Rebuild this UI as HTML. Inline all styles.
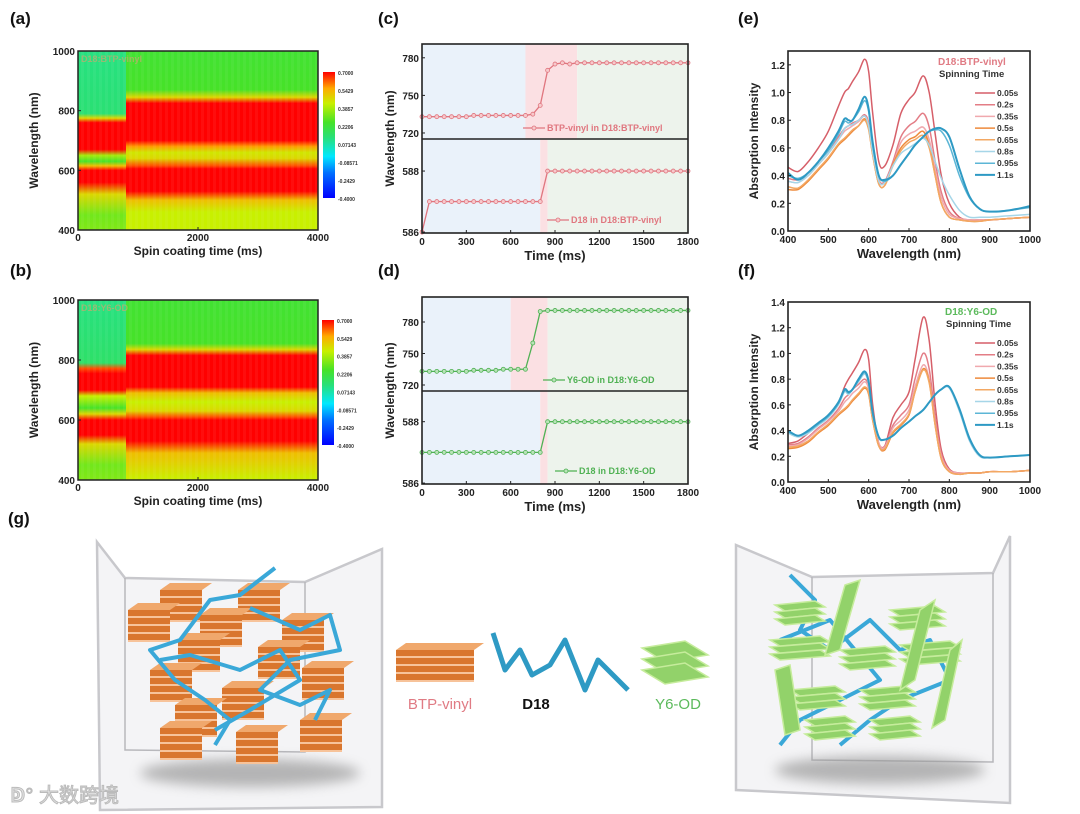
<!DOCTYPE html>
<html><head><meta charset="utf-8"><style>
html,body{margin:0;padding:0;background:#fff;}
svg{display:block;font-family:"Liberation Sans","Noto Sans CJK SC",sans-serif;}
</style></head><body>
<svg id="fig" width="1080" height="814" viewBox="0 0 1080 814" xmlns="http://www.w3.org/2000/svg">
<defs>
<filter id="blur" x="-20%" y="-50%" width="140%" height="200%"><feGaussianBlur stdDeviation="6"/></filter>
<linearGradient id="cbar" x1="0" y1="1" x2="0" y2="0">
<stop offset="0" stop-color="#0000ff"/><stop offset="0.2" stop-color="#0070ff"/><stop offset="0.33" stop-color="#00e8ff"/><stop offset="0.48" stop-color="#28e078"/><stop offset="0.6" stop-color="#46e228"/><stop offset="0.75" stop-color="#c8f000"/><stop offset="0.87" stop-color="#ffaa00"/><stop offset="1" stop-color="#ff0000"/>
</linearGradient>
</defs>
</svg>
<script>
// ---------- DATA ----------
const hmAWlRight=[1000,870,845,825,700,680,660,640,615,605,530,500,460,400];
const hmAValRight=[0.2,0.22,0.45,0.7,0.7,0.55,0.42,0.45,0.6,0.7,0.7,0.5,0.4,0.4];
const hmAWlLeft=[1000,790,775,760,670,650,630,615,600,560,520,450,400];
const hmAValLeft=[0.06,0.08,0.45,0.7,0.7,0.35,0.22,0.5,0.7,0.7,0.45,0.28,0.3];
const hmBWlRight=[1000,855,835,815,710,690,660,630,610,600,530,490,400];
const hmBValRight=[0.2,0.22,0.45,0.7,0.7,0.5,0.4,0.45,0.6,0.7,0.7,0.5,0.4];
const hmBWlLeft=[1000,790,772,755,700,680,640,620,600,550,520,450,400];
const hmBValLeft=[0.06,0.1,0.6,0.7,0.7,0.4,0.22,0.45,0.7,0.7,0.45,0.28,0.3];
const hmSwitchTime=800;
const cbLabels=["0.7000","0.5429","0.3857","0.2206","0.07143","-0.08571","-0.2429","-0.4000"];

const stepTime=[0,50,100,150,200,250,300,350,400,450,500,550,600,650,700,750,800,850,900,950,1000,1050,1100,1150,1200,1250,1300,1350,1400,1450,1500,1550,1600,1650,1700,1750,1800];
const cUpper=[733,733,733,733,733,733,733,734,734,734,734,734,734,734,734,735,742,770,775,776,775,776,776,776,776,776,776,776,776,776,776,776,776,776,776,776,776];
const cLower=[586,587,587,587,587,587,587,587,587,587,587,587,587,587,587,587,587,588,588,588,588,588,588,588,588,588,588,588,588,588,588,588,588,588,588,588,588];
const dUpper=[733,733,733,733,733,733,733,734,734,734,734,735,735,735,735,760,790,791,791,791,791,791,791,791,791,791,791,791,791,791,791,791,791,791,791,791,791];
const dLower=[587,587,587,587,587,587,587,587,587,587,587,587,587,587,587,587,587,588,588,588,588,588,588,588,588,588,588,588,588,588,588,588,588,588,588,588,588];
const cTicksX=[0,300,600,900,1200,1500,1800];

const wl=[400,425,450,475,500,525,540,550,560,575,590,600,610,625,640,660,680,700,715,735,750,765,780,800,825,850,875,900,950,1000];
const seriesNames=["0.05s","0.2s","0.35s","0.5s","0.65s","0.8s","0.95s","1.1s"];
const e005=[0.46,0.43,0.5,0.6,0.72,0.9,1.0,1.03,1.08,1.15,1.24,1.15,0.85,0.5,0.47,0.62,0.85,0.95,1.0,1.12,1.0,0.7,0.4,0.2,0.1,0.08,0.08,0.08,0.09,0.1];
const e02=[0.38,0.37,0.42,0.5,0.58,0.68,0.74,0.76,0.78,0.8,0.84,0.78,0.58,0.37,0.36,0.5,0.68,0.76,0.79,0.85,0.75,0.5,0.28,0.14,0.09,0.08,0.08,0.08,0.09,0.1];
const e035=[0.36,0.35,0.4,0.48,0.56,0.66,0.72,0.74,0.76,0.79,0.83,0.76,0.56,0.36,0.35,0.48,0.64,0.7,0.72,0.75,0.66,0.44,0.24,0.12,0.09,0.08,0.08,0.08,0.09,0.1];
const e05=[0.3,0.3,0.36,0.44,0.52,0.62,0.66,0.69,0.72,0.76,0.81,0.74,0.55,0.34,0.33,0.48,0.6,0.66,0.68,0.72,0.62,0.4,0.2,0.1,0.08,0.07,0.07,0.08,0.09,0.1];
const e065=[0.32,0.31,0.37,0.45,0.53,0.63,0.67,0.7,0.73,0.76,0.8,0.73,0.55,0.34,0.33,0.47,0.58,0.64,0.66,0.69,0.6,0.4,0.2,0.1,0.08,0.07,0.07,0.08,0.09,0.1];
const e08=[0.36,0.35,0.4,0.48,0.56,0.66,0.74,0.76,0.77,0.8,0.83,0.76,0.57,0.36,0.35,0.47,0.56,0.6,0.63,0.67,0.62,0.5,0.38,0.26,0.15,0.1,0.1,0.1,0.11,0.12];
const e095=[0.4,0.38,0.42,0.5,0.58,0.7,0.79,0.78,0.8,0.86,0.94,0.86,0.62,0.4,0.36,0.4,0.48,0.56,0.62,0.68,0.72,0.73,0.72,0.62,0.4,0.24,0.16,0.14,0.15,0.17];
const e11=[0.42,0.37,0.42,0.5,0.6,0.72,0.81,0.8,0.8,0.88,0.97,0.88,0.64,0.4,0.37,0.4,0.48,0.56,0.62,0.68,0.72,0.74,0.74,0.68,0.45,0.25,0.16,0.14,0.15,0.18];
const f005=[0.3,0.32,0.38,0.45,0.52,0.62,0.74,0.8,0.85,0.93,1.03,0.95,0.6,0.3,0.28,0.5,0.6,0.7,0.95,1.28,1.1,0.6,0.25,0.1,0.07,0.07,0.07,0.08,0.08,0.09];
const f02=[0.29,0.3,0.35,0.42,0.48,0.57,0.65,0.68,0.72,0.76,0.8,0.74,0.5,0.3,0.28,0.44,0.52,0.6,0.8,1.0,0.88,0.5,0.22,0.09,0.07,0.07,0.07,0.08,0.08,0.09];
const f035=[0.28,0.29,0.34,0.41,0.47,0.55,0.62,0.65,0.69,0.73,0.78,0.72,0.5,0.3,0.27,0.42,0.48,0.56,0.74,0.91,0.8,0.46,0.2,0.09,0.07,0.07,0.07,0.08,0.08,0.09];
const f05=[0.26,0.27,0.31,0.38,0.44,0.52,0.56,0.59,0.63,0.68,0.73,0.68,0.48,0.28,0.25,0.38,0.44,0.52,0.7,0.88,0.78,0.44,0.18,0.08,0.06,0.07,0.07,0.08,0.08,0.09];
const f065=[0.27,0.28,0.32,0.39,0.45,0.53,0.57,0.6,0.64,0.69,0.74,0.69,0.48,0.28,0.26,0.39,0.45,0.53,0.7,0.87,0.77,0.44,0.18,0.08,0.06,0.07,0.07,0.08,0.08,0.09];
const f08=[0.38,0.35,0.38,0.44,0.5,0.6,0.7,0.68,0.72,0.78,0.84,0.76,0.52,0.34,0.33,0.36,0.42,0.47,0.51,0.56,0.62,0.68,0.72,0.73,0.55,0.32,0.2,0.19,0.2,0.21];
const f095=[0.39,0.36,0.39,0.45,0.51,0.61,0.71,0.69,0.72,0.79,0.85,0.77,0.53,0.35,0.33,0.36,0.42,0.47,0.51,0.56,0.62,0.68,0.72,0.74,0.56,0.33,0.21,0.19,0.2,0.21];
const f11=[0.4,0.36,0.4,0.46,0.52,0.62,0.72,0.7,0.72,0.8,0.86,0.78,0.54,0.35,0.33,0.36,0.42,0.47,0.51,0.56,0.62,0.68,0.72,0.74,0.57,0.34,0.21,0.19,0.2,0.21];
const seriesColors=["#d65f69","#e37d86","#f0a9ae","#ee8a3b","#f3a863","#a6d6e8","#5cb6d6","#2e9ac4"];

// ---------- HELPERS ----------
const svg=document.getElementById('fig');
const NS='http://www.w3.org/2000/svg';
function mk(tag,attrs,name,parent){
  const el=document.createElementNS(NS,tag);
  for(const k in attrs) el.setAttribute(k,attrs[k]);
  
  
  (parent||svg).appendChild(el);
  return el;
}
function txt(x,y,s,name,opt){
  opt=opt||{};
  const t=mk('text',{x:x,y:y,'font-size':opt.size||10,'font-weight':opt.weight||'bold',fill:opt.fill||'#222','text-anchor':opt.anchor||'start'},name,opt.parent);
  if(opt.rot) t.setAttribute('transform','rotate(-90 '+x+' '+y+')');
  t.textContent=s;
  return t;
}
function lin(d0,d1,r0,r1){return v=>r0+(v-d0)*(r1-r0)/(d1-d0);}
const cmV=[-0.4,-0.24,-0.09,0.07,0.22,0.40,0.54,0.65];
const cmC=[[0,0,255],[0,112,255],[0,232,255],[40,224,120],[70,226,40],[200,240,0],[255,170,0],[255,0,0]];
function cmap(v){
  if(v<=cmV[0]) return 'rgb('+cmC[0]+')';
  for(let i=1;i<cmV.length;i++){
    if(v<=cmV[i]){const t=(v-cmV[i-1])/(cmV[i]-cmV[i-1]);const a=cmC[i-1],b=cmC[i];
      return 'rgb('+a.map((c,j)=>Math.round(c+(b[j]-c)*t)).join(',')+')';}
  }
  return 'rgb(255,0,0)';
}
function smoothPath(pts){
  let d='M'+pts[0][0].toFixed(1)+','+pts[0][1].toFixed(1);
  for(let i=0;i<pts.length-1;i++){
    const p0=pts[Math.max(0,i-1)],p1=pts[i],p2=pts[i+1],p3=pts[Math.min(pts.length-1,i+2)];
    const c1=[p1[0]+(p2[0]-p0[0])/6,p1[1]+(p2[1]-p0[1])/6];
    const c2=[p2[0]-(p3[0]-p1[0])/6,p2[1]-(p3[1]-p1[1])/6];
    d+=' C'+c1[0].toFixed(1)+','+c1[1].toFixed(1)+' '+c2[0].toFixed(1)+','+c2[1].toFixed(1)+' '+p2[0].toFixed(1)+','+p2[1].toFixed(1);
  }
  return d;
}

// ---------- PANEL LABELS ----------
[["(a)",10,24],["(b)",10,276],["(c)",378,24],["(d)",378,276],["(e)",738,24],["(f)",738,276],["(g)",8,524]].forEach(p=>{
  txt(p[1],p[2],p[0],'panel-label-'+p[0].replace(/[()]/g,''),{size:17,fill:'#111'});
});

// ---------- HEATMAPS ----------
function heatmap(px,py,pw,ph,wlL,vL,wlR,vR,label,cbx,cby,cbh,key){
  const g=mk('g',{},'heatmap-'+key);
  const x=lin(0,4000,px,px+pw), y=lin(400,1000,py+ph,py);
  function grad(id,wls,vals){
    const lg=mk('linearGradient',{id:id,x1:0,y1:0,x2:0,y2:1},'gradient',svg.querySelector('defs'));
    wls.forEach((w,i)=>{mk('stop',{offset:((1000-w)/600).toFixed(4),'stop-color':cmap(vals[i])},'stop',lg);});
  }
  grad('gL'+key,wlL,vL); grad('gR'+key,wlR,vR);
  mk('rect',{x:x(0),y:py,width:x(hmSwitchTime)-x(0),height:ph,fill:'url(#gL'+key+')'},'heatmap-early-region',g);
  mk('rect',{x:x(hmSwitchTime),y:py,width:x(4000)-x(hmSwitchTime),height:ph,fill:'url(#gR'+key+')'},'heatmap-late-region',g);
  for(let t=0;t<4000;t+=100){
    mk('rect',{x:x(t)+x(50)-x(0),y:py,width:x(50)-x(0),height:ph,fill:'#fff',opacity:0.05},'heatmap-column',g);
  }
  mk('rect',{x:px,y:py,width:pw,height:ph,fill:'none',stroke:'#222','stroke-width':1.5},'plot-frame',g);
  [0,2000,4000].forEach(t=>{mk('line',{x1:x(t),y1:py+ph,x2:x(t),y2:py+ph-3,stroke:'#222'},'x-tick',g);txt(x(t),py+ph+11,t,'x-tick-label',{size:10,anchor:'middle',parent:g});});
  [1000,800,600,400].forEach(w=>{mk('line',{x1:px,y1:y(w),x2:px+3,y2:y(w),stroke:'#222'},'y-tick',g);txt(px-3,y(w)+4,w,'y-tick-label',{size:10,anchor:'end',parent:g});});
  txt(px+pw/2,py+ph+25,'Spin coating time (ms)','x-axis-title',{size:12,anchor:'middle',parent:g});
  txt(px-40,py+ph/2,'Wavelength (nm)','y-axis-title',{size:12,anchor:'middle',rot:true,parent:g});
  txt(px+3,py+11,label,'heatmap-sample-label',{size:9,fill:'#c9a870',parent:g,weight:'bold'}).setAttribute('opacity','0.7');
  mk('rect',{x:cbx,y:cby,width:12,height:cbh,fill:'url(#cbar)'},'colorbar',g);
  cbLabels.forEach((l,i)=>txt(cbx+15,cby+3+i*cbh/7,l,'colorbar-label',{size:5,fill:'#333',parent:g}));
}
heatmap(78,51,240,179,hmAWlLeft,hmAValLeft,hmAWlRight,hmAValRight,'D18:BTP-vinyl',323,72,126,'a');
heatmap(78,300,240,180,hmBWlLeft,hmBValLeft,hmBWlRight,hmBValRight,'D18:Y6-OD',322,320,125,'b');

// ---------- STEP CHARTS ----------
function stepChart(key,px,pw,top,mid,bot,uMin,uMax,uTicks,lMin,lMax,upper,lower,upShade,loShade,color,mfill,leg1,leg2,leg1x,leg2x){
  const g=mk('g',{},'time-chart-'+key);
  const x=lin(0,1800,px,px+pw);
  const yu=lin(uMin,uMax,mid,top), yl=lin(lMin,lMax,bot,mid);
  const shadeC=['#eaf2fa','#fbe0e3','#edf3ec'];
  [[top,mid,upShade],[mid,bot,loShade]].forEach(s=>{
    const b=[0,s[2][0],s[2][1],1800];
    for(let i=0;i<3;i++) mk('rect',{x:x(b[i]),y:s[0],width:x(b[i+1])-x(b[i]),height:s[1]-s[0],fill:shadeC[i]},'stage-shading',g);
  });
  function series(vals,yf,name){
    mk('polyline',{points:stepTime.map((t,i)=>x(t)+','+yf(vals[i])).join(' '),fill:'none',stroke:color,'stroke-width':1.3},name+'-line',g);
    stepTime.forEach((t,i)=>mk('circle',{cx:x(t),cy:yf(vals[i]),r:2,fill:mfill,stroke:color,'stroke-width':0.8},name+'-point',g));
  }
  series(upper,yu,'upper-series'); series(lower,yl,'lower-series');
  mk('rect',{x:px,y:top,width:pw,height:bot-top,fill:'none',stroke:'#222','stroke-width':1.6},'plot-frame',g);
  mk('line',{x1:px,y1:mid,x2:px+pw,y2:mid,stroke:'#222','stroke-width':1.6},'panel-divider',g);
  cTicksX.forEach(t=>{mk('line',{x1:x(t),y1:bot,x2:x(t),y2:bot-3,stroke:'#222'},'x-tick',g);txt(x(t),bot+12,t,'x-tick-label',{size:10,anchor:'middle',parent:g});});
  uTicks.forEach(v=>{mk('line',{x1:px,y1:yu(v),x2:px+3,y2:yu(v),stroke:'#222'},'y-tick',g);txt(px-3,yu(v)+4,v,'y-tick-label',{size:10,anchor:'end',parent:g});});
  [588,586].forEach(v=>{mk('line',{x1:px,y1:yl(v),x2:px+3,y2:yl(v),stroke:'#222'},'y-tick',g);txt(px-3,yl(v)+4,v,'y-tick-label',{size:10,anchor:'end',parent:g});});
  txt(px+pw/2,bot+27,'Time (ms)','x-axis-title',{size:13,anchor:'middle',parent:g});
  txt(px-28,(top+bot)/2,'Wavelength (nm)','y-axis-title',{size:12,anchor:'middle',rot:true,parent:g});
  [[leg1,leg1x,mid-8],[leg2,leg2x,bot-10]].forEach((l)=>{
    mk('line',{x1:l[1],y1:l[2]-3,x2:l[1]+22,y2:l[2]-3,stroke:color,'stroke-width':1.3},'legend-line',g);
    mk('circle',{cx:l[1]+11,cy:l[2]-3,r:2,fill:mfill,stroke:color,'stroke-width':0.8},'legend-marker',g);
    txt(l[1]+24,l[2],l[0],'legend-entry',{size:9,fill:color,parent:g});
  });
}
stepChart('c',422,266,44,139,233,715.2,791,[780,750,720],585.97,589.05,cUpper,cLower,[700,1050],[800,850],'#e0767f','#f7c9cc','BTP-vinyl in D18:BTP-vinyl','D18 in D18:BTP-vinyl',523,547);
stepChart('d',422,266,297,391,484,714.3,803.8,[780,750,720],585.97,589.0,dUpper,dLower,[600,850],[800,850],'#4fb153','#b9e3b8','Y6-OD in D18:Y6-OD','D18 in D18:Y6-OD',543,555);

// ---------- SPECTRA ----------
function spectra(key,px,pw,top,bot,yMax,yTicks,data,title,titleColor,legX,legY){
  const g=mk('g',{},'spectra-chart-'+key);
  const x=lin(400,1000,px,px+pw), y=lin(0,yMax,bot,top);
  data.forEach((vals,si)=>{
    mk('path',{d:smoothPath(wl.map((w,i)=>[x(w),y(vals[i])])),fill:'none',stroke:seriesColors[si],'stroke-width':si==7?2:1.5,'stroke-linejoin':'round'},'spectrum-'+seriesNames[si],g);
  });
  mk('rect',{x:px,y:top,width:pw,height:bot-top,fill:'none',stroke:'#222','stroke-width':1.6},'plot-frame',g);
  [400,500,600,700,800,900,1000].forEach(w=>{mk('line',{x1:x(w),y1:bot,x2:x(w),y2:bot-3,stroke:'#222'},'x-tick',g);txt(x(w),bot+12,w,'x-tick-label',{size:10,anchor:'middle',parent:g});});
  yTicks.forEach(v=>{mk('line',{x1:px,y1:y(v),x2:px+3,y2:y(v),stroke:'#222'},'y-tick',g);txt(px-3,y(v)+4,v.toFixed(1),'y-tick-label',{size:10,anchor:'end',parent:g});});
  txt(px+pw/2,bot+27,'Wavelength (nm)','x-axis-title',{size:13,anchor:'middle',parent:g});
  txt(px-30,(top+bot)/2,'Absorption Intensity','y-axis-title',{size:12,anchor:'middle',rot:true,parent:g});
  txt(legX,legY,title,'legend-sample-title',{size:10,fill:titleColor,parent:g});
  txt(legX+1,legY+12,'Spinning Time','legend-title',{size:9.5,fill:'#333',parent:g});
  seriesNames.forEach((n,i)=>{
    const yy=legY+31+i*11.7;
    mk('line',{x1:975,y1:yy-3,x2:995,y2:yy-3,stroke:seriesColors[i],'stroke-width':i==7?2:1.5},'legend-line',g);
    txt(997,yy,n,'legend-entry',{size:8.5,fill:'#333',parent:g});
  });
}
spectra('e',788,242,51,231,1.3,[0,0.2,0.4,0.6,0.8,1.0,1.2],[e005,e02,e035,e05,e065,e08,e095,e11],'D18:BTP-vinyl','#e07b84',938,65);
spectra('f',788,242,302,482,1.4,[0,0.2,0.4,0.6,0.8,1.0,1.2,1.4],[f005,f02,f035,f05,f065,f08,f095,f11],'D18:Y6-OD','#5cba5c',945,315);

// ---------- ILLUSTRATION (g) ----------
const ill=mk('g',{},'morphology-illustration');
function box(pts,inner,name){
  const b=mk('g',{},name,ill);
  mk('polygon',{points:pts,fill:'#f4f4f6',stroke:'#c8c8cc','stroke-width':2.5},'box-outline',b);
  mk('polyline',{points:inner,fill:'none',stroke:'#b8b8bc','stroke-width':1.5},'box-inner-edge',b);
  return b;
}
box('97,542 125,578 305,582 382,549 382,807 100,810','125,578 125,750 305,752 305,582','left-box');
box('736,545 812,577 993,573 1010,536 1010,803 736,790','812,577 812,760 993,762 993,573','right-box');
mk('ellipse',{cx:250,cy:773,rx:110,ry:14,fill:'#999',filter:'url(#blur)',opacity:0.7},'left-shadow',ill);
mk('ellipse',{cx:880,cy:770,rx:105,ry:14,fill:'#999',filter:'url(#blur)',opacity:0.7},'right-shadow',ill);
function stack(cx,cy,w,name){
  const s=mk('g',{},name,ill);
  for(let i=0;i<4;i++){
    const yy=cy+i*8;
    mk('rect',{x:cx,y:yy,width:w,height:6,fill:'#d9762e'},'slab',s);
    mk('rect',{x:cx,y:yy+6,width:w,height:2,fill:'#f7c39a'},'slab-gap',s);
  }
  mk('polygon',{points:(cx)+','+cy+' '+(cx+10)+','+(cy-7)+' '+(cx+w+10)+','+(cy-7)+' '+(cx+w)+','+cy,fill:'#f0a86c'},'slab-top',s);
}
[[160,590],[238,590],[128,610],[200,615],[282,620],[178,640],[258,647],[150,670],[302,668],[222,688],[175,705],[300,720],[160,728],[236,732]].forEach(p=>stack(p[0],p[1],42,'btp-stack'));
function ribbon(d,name){mk('path',{d:d,fill:'none',stroke:'#3aa8d8','stroke-width':4,'stroke-linejoin':'round'},name,ill);}
ribbon('M275,568 L240,595 L210,600 L180,640 L150,650 L175,680 L205,700 L230,720 L215,745','d18-ribbon');
ribbon('M250,608 L300,630 L330,615 L340,650 L290,660 L260,690 L300,705 L330,690 L315,720','d18-ribbon');
ribbon('M160,660 L190,655 L240,670 L280,650 L300,680 L250,710 L215,730','d18-ribbon');
ribbon('M790,575 L815,600 L800,630 L830,650 L870,620 L900,650 L930,640 L950,680 L900,700 L870,720 L840,745','d18-ribbon');
ribbon('M780,640 L830,620 L880,680 L840,700 L800,720 L780,745','d18-ribbon');
function plate(pts,name){mk('polygon',{points:pts,fill:'#92d26a',stroke:'#c6ec9c','stroke-width':1.5},name,ill);}
[[775,605,40,12],[890,610,45,12],[770,640,50,14],[840,650,45,14],[900,645,50,14],[790,690,45,14],[860,690,45,14],[805,720,40,12],[870,720,40,12]].forEach(p=>{
  for(let i=0;i<3;i++) plate((p[0])+','+(p[1]+i*7)+' '+(p[0]+p[2])+','+(p[1]+i*7-4)+' '+(p[0]+p[2]+10)+','+(p[1]+i*7+2)+' '+(p[0]+10)+','+(p[1]+i*7+6),'y6-plate');
});
plate('845,585 860,580 840,650 825,655','y6-plate');
plate('920,610 935,600 915,680 900,690','y6-plate');
plate('775,670 790,665 800,730 785,735','y6-plate');
plate('950,650 962,640 945,720 932,728','y6-plate');
stack(396,650,78,'btp-vinyl-icon');
mk('path',{d:'M493,633 L505,670 L520,650 L532,675 L550,665 L565,640 L585,690 L598,660 L628,690',fill:'none',stroke:'#2e9ac4','stroke-width':5,'stroke-linejoin':'round'},'d18-icon',ill);
for(let i=0;i<3;i++) plate('642,'+(648+i*11)+' 685,'+(641+i*11)+' 708,'+(655+i*11)+' 665,'+(662+i*11),'y6-od-icon');
txt(440,709,'BTP-vinyl','btp-vinyl-label',{size:15,fill:'#e07b84',anchor:'middle',weight:'normal'});
txt(536,709,'D18','d18-label',{size:15,fill:'#111',anchor:'middle'});
txt(678,709,'Y6-OD','y6-od-label',{size:15,fill:'#5cba5c',anchor:'middle',weight:'normal'});
txt(10,802,'ↁ° 大数跨境','watermark',{size:20,fill:'#e6e6e6',weight:'normal'}).setAttribute('stroke','#bbb');
</script>
</body></html>
